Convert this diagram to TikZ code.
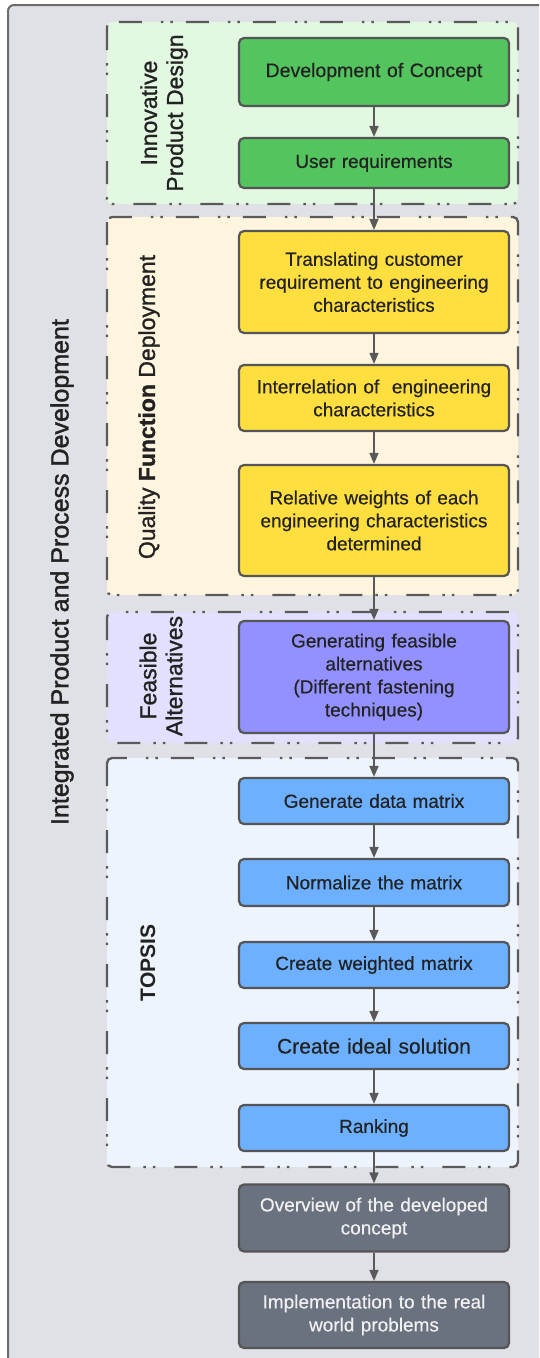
\documentclass[tikz,border=0pt]{standalone}
\usepackage{fontspec}
\setmainfont{Liberation Sans}
\newfontfamily\boxfont[FakeBold=0.4]{Liberation Sans}
\newfontfamily\labfont[FakeBold=1.1]{Liberation Sans}
\newfontfamily\biglabfont[FakeBold=1.5]{Liberation Sans}
\usetikzlibrary{arrows.meta}
\definecolor{framebg}{HTML}{DFE1E6}
\definecolor{frameline}{HTML}{6B6B6B}
\definecolor{grpline}{HTML}{5A5A5A}
\definecolor{ipdbg}{HTML}{E3F8E1}
\definecolor{qfdbg}{HTML}{FFF4DE}
\definecolor{fabg}{HTML}{E1E0FF}
\definecolor{topbg}{HTML}{EEF4FD}
\definecolor{greenbox}{HTML}{54C45E}
\definecolor{yellowbox}{HTML}{FFDF3F}
\definecolor{purplebox}{HTML}{9391FF}
\definecolor{bluebox}{HTML}{6CB0FF}
\definecolor{darkbox}{HTML}{6A717F}
\definecolor{boxline}{HTML}{555555}
\definecolor{arrowcol}{HTML}{595959}
\definecolor{txt}{HTML}{222222}
\tikzset{
  grp/.style={draw=grpline, line width=2.3pt, rounded corners=5pt,
    dash pattern=on 23pt off 13pt on 2.5pt off 7pt on 2.5pt off 19pt},
  pbox/.style={draw=boxline, line width=2.2pt, rounded corners=5pt,
    minimum width=270pt, text width=255pt, align=center, inner sep=0pt,
    text=txt, font=\boxfont\fontsize{19}{23}\selectfont},
  darkpbox/.style={pbox, fill=darkbox, text=white!94!black},
  grplabel/.style={rotate=90, align=center, text=txt,
    font=\labfont\fontsize{23}{26}\selectfont},
  flow/.style={draw=arrowcol, line width=1.6pt,
    -{Triangle[length=11pt,width=9pt]}}
}
\begin{document}
\begin{tikzpicture}[x=1pt,y=-1pt]
\useasboundingbox (0,0) rectangle (539,1358);
\clip (0,0) rectangle (539,1358);
\fill[white] (0,0) rectangle (539,1358);
\draw[draw=frameline, fill=framebg, line width=2pt, rounded corners=6pt] (8,5) rectangle (570,1390);

% groups
\draw[grp, fill=ipdbg] (107,22) rectangle (518,204);
\draw[grp, fill=qfdbg] (107,217) rectangle (518,595);
\draw[grp, fill=fabg] (107,612) rectangle (518,743);
\draw[grp, fill=topbg] (107,758) rectangle (518,1167);

% group labels
\node[grplabel] (lipd) at (164,113) {Innovative\\Product Design};
\node[grplabel] (lqfd) at (149,407) {Quality {\bfseries Function} Deployment};
\node[grplabel] (lfa) at (161,676) {Feasible\\Alternatives};
\node[grplabel, font=\fontsize{21}{24}\selectfont\bfseries] (ltop) at (148,963) {TOPSIS};
\node[rotate=90, text=txt, font=\biglabfont\fontsize{25}{28}\selectfont] (lippd) at (62,572) {Integrated Product and Process Development};

% process boxes
\node[pbox, fill=greenbox, minimum height=68pt, font=\boxfont\fontsize{19.5}{23}\selectfont] (dev) at (374,72) {Development of Concept};
\node[pbox, fill=greenbox, minimum height=50pt] (user) at (374,163) {User requirements};
\node[pbox, fill=yellowbox, minimum height=102pt] (trans) at (374,282) {Translating customer\\requirement to engineering\\characteristics};
\node[pbox, fill=yellowbox, minimum height=66pt] (inter) at (374,398) {Interrelation of\ \ engineering\\characteristics};
\node[pbox, fill=yellowbox, minimum height=111pt] (rel) at (374,520.5) {Relative weights of each\\engineering characteristics\\determined};
\node[pbox, fill=purplebox, minimum height=112pt] (gen) at (374,677) {Generating feasible\\alternatives\\(Different fastening\\techniques)};
\node[pbox, fill=bluebox, minimum height=46pt] (gdm) at (374,801) {Generate data matrix};
\node[pbox, fill=bluebox, minimum height=47pt] (norm) at (374,882.5) {Normalize the matrix};
\node[pbox, fill=bluebox, minimum height=46pt] (cwm) at (374,965) {Create weighted matrix};
\node[pbox, fill=bluebox, minimum height=46pt, font=\boxfont\fontsize{21}{24}\selectfont] (cis) at (374,1046) {Create ideal solution};
\node[pbox, fill=bluebox, minimum height=46pt] (rank) at (374,1128) {Ranking};
\node[darkpbox, minimum height=67pt] (over) at (374,1218) {Overview of the developed\\concept};
\node[darkpbox, minimum height=66pt] (impl) at (374,1315) {Implementation to the real\\world problems};

% connectors
\draw[flow] (dev) -- (user);
\draw[flow] (user) -- (trans);
\draw[flow] (trans) -- (inter);
\draw[flow] (inter) -- (rel);
\draw[flow] (rel) -- (gen);
\draw[flow] (gen) -- (gdm);
\draw[flow] (gdm) -- (norm);
\draw[flow] (norm) -- (cwm);
\draw[flow] (cwm) -- (cis);
\draw[flow] (cis) -- (rank);
\draw[flow] (rank) -- (over);
\draw[flow] (over) -- (impl);
\end{tikzpicture}
\end{document}
